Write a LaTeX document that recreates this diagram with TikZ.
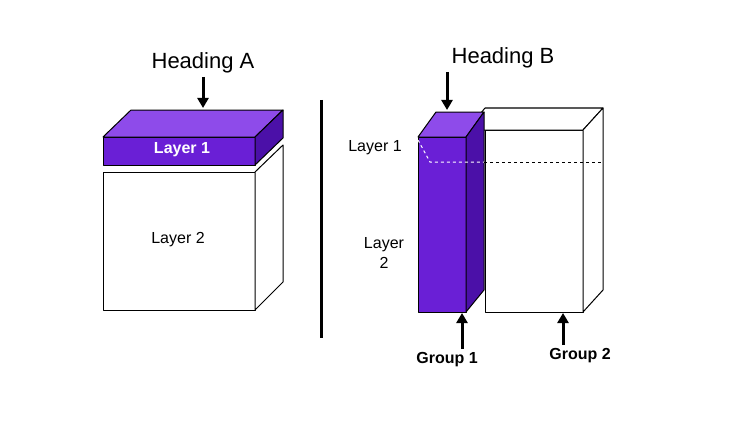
\documentclass[tikz,border=0pt]{standalone}
\usepackage{fontspec}
\setmainfont{Liberation Sans}
\usetikzlibrary{arrows.meta}
\definecolor{pfront}{HTML}{6A1FD6}
\definecolor{ptop}{HTML}{8E4BEA}
\definecolor{pside}{HTML}{4B10A8}
\tikzset{
  face/.style={draw=black, line width=1pt, line join=round},
  wface/.style={face, fill=white},
  pointer/.style={-{Triangle[length=10pt,width=11pt]}, line width=3pt},
  head/.style={font=\fontsize{22}{24}\selectfont},
  lbl/.style={font=\fontsize{16}{20}\selectfont, align=center},
  blbl/.style={font=\bfseries\fontsize{16}{20}\selectfont, align=center}
}
\begin{document}
\begin{tikzpicture}[x=1pt,y=-1pt]
\useasboundingbox (0,0) rectangle (751,433);
\fill[white] (0,0) rectangle (751,433);
% ---------- left group ----------
\draw[wface] (103,172) -- (255,172) -- (255,310) -- (103,310) -- cycle;
\draw[wface] (255,172) -- (283,145) -- (283,282) -- (255,310) -- cycle;
\draw[face, fill=pfront] (103,137) -- (255,137) -- (255,165) -- (103,165) -- cycle;
\draw[face, fill=ptop] (103,137) -- (131,110) -- (283,110) -- (255,137) -- cycle;
\draw[face, fill=pside] (255,137) -- (283,110) -- (283,138) -- (255,165) -- cycle;
\node[head] (lh) at (203,63) {Heading A};
\coordinate (lt) at (203,108);
\draw[pointer] (lh.south) -- (lt);
\node[blbl, text=white] (ltop) at (182,150) {Layer 1};
\node[lbl] (lbot) at (178,240) {Layer 2};
% ---------- separator ----------
\draw[line width=3pt] (321,100) -- (321,338);
% ---------- right group ----------
\draw[wface] (485,130) -- (583,130) -- (583,312) -- (485,312) -- cycle;
\draw[wface] (467,130) -- (485,108) -- (603,108) -- (583,130) -- cycle;
\draw[wface] (583,130) -- (603,108) -- (603,290) -- (583,312) -- cycle;
\draw[face, fill=pfront] (418,137) -- (466,137) -- (466,312) -- (418,312) -- cycle;
\draw[face, fill=ptop] (418,137) -- (436,112) -- (484,112) -- (466,137) -- cycle;
\draw[face, fill=pside] (466,137) -- (484,112) -- (484,290) -- (466,312) -- cycle;
\draw[white, dashed, line width=1pt] (418,140) -- (430,162) -- (484,162);
\draw[dashed, line width=0.9pt] (484,162) -- (603,162);
\node[head] (rh) at (503,58) {Heading B};
\coordinate (rt) at (447,110);
\draw[pointer] (rh.south -| rt) -- (rt);
\node[lbl] (rtop) at (375,148) {Layer 1};
\node[lbl] (rbot) at (384,253) {Layer\\2};
\node[blbl] (g1) at (447,360) {Group 1};
\node[blbl] (g2) at (580,356) {Group 2};
\coordinate (g1t) at (462,313);
\coordinate (g2t) at (563,313);
\draw[pointer] (g1.north -| g1t) -- (g1t);
\draw[pointer] (g2.north -| g2t) -- (g2t);
\end{tikzpicture}
\end{document}
